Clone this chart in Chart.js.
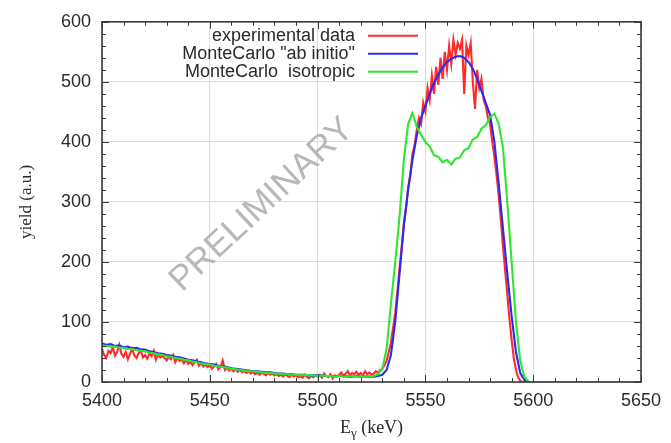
<!DOCTYPE html>
<html>
<head>
<meta charset="utf-8">
<title>Gamma yield</title>
<script src="https://cdn.jsdelivr.net/npm/chart.js@4.4.0/dist/chart.umd.min.js"></script>
<style>
  html, body { margin: 0; padding: 0; background: #fff; }
  #wrap { position: relative; width: 671px; height: 443px; }
</style>
</head>
<body>
<div id="wrap"><canvas id="spectrum"></canvas></div>
<script>
// ---------- data ----------
// photon energy (keV) for the measured spectrum, 1 keV bins
var expEnergy = [
  5400, 5401, 5402, 5403, 5404, 5405, 5406, 5407, 5408, 5409,
  5410, 5411, 5412, 5413, 5414, 5415, 5416, 5417, 5418, 5419,
  5420, 5421, 5422, 5423, 5424, 5425, 5426, 5427, 5428, 5429,
  5430, 5431, 5432, 5433, 5434, 5435, 5436, 5437, 5438, 5439,
  5440, 5441, 5442, 5443, 5444, 5445, 5446, 5447, 5448, 5449,
  5450, 5451, 5452, 5453, 5454, 5455, 5456, 5457, 5458, 5459,
  5460, 5461, 5462, 5463, 5464, 5465, 5466, 5467, 5468, 5469,
  5470, 5471, 5472, 5473, 5474, 5475, 5476, 5477, 5478, 5479,
  5480, 5481, 5482, 5483, 5484, 5485, 5486, 5487, 5488, 5489,
  5490, 5491, 5492, 5493, 5494, 5495, 5496, 5497, 5498, 5499,
  5500, 5501, 5502, 5503, 5504, 5505, 5506, 5507, 5508, 5509,
  5510, 5511, 5512, 5513, 5514, 5515, 5516, 5517, 5518, 5519,
  5520, 5521, 5522, 5523, 5524, 5525, 5526, 5527, 5528, 5529,
  5530, 5531, 5532, 5533, 5534, 5535, 5536, 5537, 5538, 5539,
  5540, 5541, 5542, 5543, 5544, 5545, 5546, 5547, 5548, 5549,
  5550, 5551, 5552, 5553, 5554, 5555, 5556, 5557, 5558, 5559,
  5560, 5561, 5562, 5563, 5564, 5565, 5566, 5567, 5568, 5569,
  5570, 5571, 5572, 5573, 5574, 5575, 5576, 5577, 5578, 5579,
  5580, 5581, 5582, 5583, 5584, 5585, 5586, 5587, 5588, 5589,
  5590, 5591, 5592, 5593, 5594, 5595, 5596, 5597, 5598, 5599,
  5600, 5610, 5620, 5630, 5640, 5650
];
var expYield = [
  55, 45, 40, 52, 48, 58, 44, 50, 62, 47,
  42, 50, 38, 47, 55, 44, 40, 48, 52, 41,
  45, 39, 48, 43, 52, 37, 46, 41, 44, 40,
  36, 43, 38, 45, 33, 40, 35, 38, 31, 37,
  30, 34, 28, 33, 37, 27, 31, 26, 29, 25,
  28, 22, 26, 30, 21, 25, 36, 20, 24, 19,
  22, 18, 21, 17, 20, 16, 19, 15, 18, 14,
  17, 13, 16, 12, 15, 14, 11, 15, 12, 14,
  11, 13, 10, 12, 9, 13, 10, 8, 12, 9,
  11, 8, 10, 7, 12, 9, 6, 10, 8, 11,
  9, 12, 7, 14, 10, 8, 13, 6, 11, 9,
  12, 16, 10, 14, 18, 11, 15, 13, 17, 12,
  15, 11, 18, 13, 16, 12, 14, 18, 15, 20,
  22, 28, 35, 50, 65, 90, 115, 150, 190, 225,
  265, 290, 325, 345, 380, 395, 420, 440, 430, 465,
  450, 490, 470, 510, 480, 525, 495, 540, 505, 550,
  520, 560, 530, 570, 545, 565, 555, 570, 480, 560,
  545, 565, 500, 455, 520, 490, 505, 470, 460, 440,
  430, 400, 375, 345, 310, 270, 225, 185, 145, 105,
  70, 40, 20, 8, 2, 0, 0, 0, 0, 0,
  0, 0, 0, 0, 0, 0
];

// Monte Carlo spectra, 2 keV bins
var mcEnergy = [
  5400, 5402, 5404, 5406, 5408, 5410, 5412, 5414, 5416, 5418,
  5420, 5422, 5424, 5426, 5428, 5430, 5432, 5434, 5436, 5438,
  5440, 5442, 5444, 5446, 5448, 5450, 5452, 5454, 5456, 5458,
  5460, 5462, 5464, 5466, 5468, 5470, 5472, 5474, 5476, 5478,
  5480, 5482, 5484, 5486, 5488, 5490, 5492, 5494, 5496, 5498,
  5500, 5502, 5504, 5506, 5508, 5510, 5512, 5514, 5516, 5518,
  5520, 5522, 5524, 5526, 5528, 5530, 5532, 5534, 5536, 5538,
  5540, 5542, 5544, 5546, 5548, 5550, 5552, 5554, 5556, 5558,
  5560, 5562, 5564, 5566, 5568, 5570, 5572, 5574, 5576, 5578,
  5580, 5582, 5584, 5586, 5588, 5590, 5592, 5594, 5596, 5598,
  5600, 5610, 5620, 5630, 5640, 5650
];
var abInitioYield = [
  64, 62, 63, 60, 61, 58, 59, 56, 57, 54,
  54, 51, 50, 48, 47, 45, 44, 42, 41, 39,
  37, 36, 34, 33, 31, 30, 29, 27, 26, 25,
  23, 22, 21, 20, 19, 18, 18, 17, 16, 16,
  15, 14, 14, 13, 13, 12, 12, 12, 11, 11,
  11, 11, 10, 10, 10, 10, 10, 9, 9, 10,
  9, 9, 9, 9, 10, 12, 20, 45, 100, 180,
  260, 320, 370, 410, 440, 460, 480, 498, 512, 524,
  533, 538, 542, 543, 540, 533, 522, 505, 485, 465,
  445, 400, 330, 255, 180, 110, 50, 15, 3, 0,
  0, 0, 0, 0, 0, 0
];
var isotropicYield = [
  61, 60, 59, 59, 57, 57, 55, 55, 53, 52,
  51, 49, 48, 46, 45, 43, 42, 40, 39, 37,
  36, 34, 33, 31, 30, 29, 27, 26, 25, 24,
  22, 21, 20, 19, 18, 18, 17, 16, 15, 15,
  14, 14, 13, 13, 12, 12, 11, 12, 11, 11,
  10, 11, 10, 10, 9, 10, 9, 9, 10, 9,
  9, 9, 9, 10, 13, 22, 55, 130, 200, 275,
  370, 430, 448, 425, 412, 400, 392, 378, 375, 366,
  370, 362, 372, 374, 386, 390, 404, 408, 422, 428,
  441, 447, 430, 390, 298, 200, 100, 35, 8, 0,
  0, 0, 0, 0, 0, 0
];

var seriesLabels = ['experimental data', 'MonteCarlo "ab initio"', 'MonteCarlo  isotropic'];
var seriesColors = ['#ff2b2b', '#2b2bf0', '#2fe62f'];

var xMin = 5400, xMax = 5650, xStep = 50, xMinor = 10;
var yMin = 0, yMax = 600, yStep = 100, yMinor = 20;

function toPoints(xs, ys) {
  return xs.map(function (x, i) { return { x: x, y: ys[i] }; });
}

var SANS = '"Liberation Sans", Arial, sans-serif';
var SERIF = '"Liberation Serif", "Times New Roman", serif';

// ---------- plugins ----------
// faint diagonal stamp behind the curves
var stamp = {
  id: 'stamp',
  beforeDatasetsDraw: function (chart) {
    var ctx = chart.ctx;
    ctx.save();
    ctx.translate(262, 205);
    ctx.rotate(-43 * Math.PI / 180);
    ctx.font = '35px ' + SANS;
    ctx.fillStyle = '#b8b8b8';
    ctx.textAlign = 'center';
    ctx.textBaseline = 'middle';
    ctx.fillText('PRELIMINARY', 0, 0);
    ctx.restore();
  }
};

// gnuplot style box with inward major/minor ticks on every side
var frameTicks = {
  id: 'frameTicks',
  afterDatasetsDraw: function (chart) {
    var ctx = chart.ctx, a = chart.chartArea;
    var xs = chart.scales.x, ys = chart.scales.y;
    var v, p, len;
    ctx.save();
    ctx.strokeStyle = '#3a3a3a';
    ctx.lineWidth = 1;
    ctx.beginPath();
    for (v = xMin; v <= xMax; v += xMinor) {
      p = Math.round(xs.getPixelForValue(v)) + 0.5;
      len = (v % xStep === 0) ? 7 : 4;
      ctx.moveTo(p, a.bottom); ctx.lineTo(p, a.bottom - len);
      ctx.moveTo(p, a.top); ctx.lineTo(p, a.top + len);
    }
    for (v = yMin; v <= yMax; v += yMinor) {
      p = Math.round(ys.getPixelForValue(v)) + 0.5;
      len = (v % yStep === 0) ? 7 : 4;
      ctx.moveTo(a.left, p); ctx.lineTo(a.left + len, p);
      ctx.moveTo(a.right, p); ctx.lineTo(a.right - len, p);
    }
    ctx.stroke();
    ctx.lineWidth = 1.6;
    ctx.strokeRect(a.left, a.top, a.right - a.left, a.bottom - a.top);
    ctx.restore();
  }
};

// key in the upper left: right aligned text, line sample after it
var keyBox = {
  id: 'keyBox',
  afterDraw: function (chart) {
    var ctx = chart.ctx, a = chart.chartArea;
    var textRight = a.left + 253, lineL = a.left + 266, lineR = a.left + 316;
    ctx.save();
    ctx.font = '18px ' + SANS;
    ctx.textAlign = 'right';
    ctx.textBaseline = 'middle';
    chart.data.datasets.forEach(function (ds, i) {
      var y = a.top + 14 + i * 18;
      ctx.fillStyle = '#2a2a2a';
      ctx.fillText(ds.label, textRight, y);
      ctx.strokeStyle = ds.borderColor;
      ctx.lineWidth = 2;
      ctx.beginPath();
      ctx.moveTo(lineL, y);
      ctx.lineTo(lineR, y);
      ctx.stroke();
    });
    ctx.restore();
  }
};

// axis titles, serif like the rest of the figure captions
var axisTitles = {
  id: 'axisTitles',
  afterDraw: function (chart) {
    var ctx = chart.ctx, a = chart.chartArea;
    var cx = (a.left + a.right) / 2;
    ctx.save();
    ctx.fillStyle = '#2a2a2a';
    ctx.textBaseline = 'alphabetic';
    // E with a gamma subscript, then the unit
    var big = '18px ' + SERIF, small = '13px ' + SERIF;
    ctx.font = big;
    var wE = ctx.measureText('E').width;
    var wU = ctx.measureText(' (keV)').width;
    ctx.font = small;
    var wG = ctx.measureText('\u03b3').width;
    var x0 = cx - (wE + wG + wU) / 2, base = 433;
    ctx.textAlign = 'left';
    ctx.font = big;
    ctx.fillText('E', x0, base);
    ctx.font = small;
    ctx.fillText('\u03b3', x0 + wE, base + 4);
    ctx.font = big;
    ctx.fillText(' (keV)', x0 + wE + wG, base);

    ctx.translate(27, (a.top + a.bottom) / 2);
    ctx.rotate(-Math.PI / 2);
    ctx.textAlign = 'center';
    ctx.textBaseline = 'middle';
    ctx.font = '17px ' + SERIF;
    ctx.fillText('yield (a.u.)', 0, 0);
    ctx.restore();
  }
};

// ---------- chart ----------
var ctx = document.getElementById('spectrum').getContext('2d');
new Chart(ctx, {
  type: 'line',
  data: {
    datasets: [
      { label: seriesLabels[0], data: toPoints(expEnergy, expYield), borderColor: seriesColors[0], order: 3 },
      { label: seriesLabels[1], data: toPoints(mcEnergy, abInitioYield), borderColor: seriesColors[1], order: 2 },
      { label: seriesLabels[2], data: toPoints(mcEnergy, isotropicYield), borderColor: seriesColors[2], order: 1 }
    ]
  },
  options: {
    responsive: true,
    maintainAspectRatio: false,
    animation: false,
    devicePixelRatio: 1,
    layout: { padding: { top: 17, right: 30, left: 0, bottom: 0 } },
    elements: {
      line: { borderWidth: 2.1, tension: 0, fill: false },
      point: { radius: 0, hoverRadius: 0 }
    },
    plugins: {
      legend: { display: false },
      tooltip: { enabled: false }
    },
    scales: {
      x: {
        type: 'linear',
        min: xMin,
        max: xMax,
        afterFit: function (scale) { scale.height = 61; },
        ticks: {
          stepSize: xStep,
          maxRotation: 0,
          padding: 8,
          color: '#2a2a2a',
          font: { family: SANS, size: 18 },
          callback: function (v) { return String(v); }
        },
        grid: { color: '#dcdcdc', lineWidth: 1, drawTicks: false },
        border: { display: false }
      },
      y: {
        min: yMin,
        max: yMax,
        afterFit: function (scale) { scale.width = 102; },
        ticks: {
          stepSize: yStep,
          padding: 11,
          color: '#2a2a2a',
          font: { family: SANS, size: 18 },
          callback: function (v) { return String(v); }
        },
        grid: { color: '#dcdcdc', lineWidth: 1, drawTicks: false },
        border: { display: false }
      }
    }
  },
  plugins: [stamp, frameTicks, keyBox, axisTitles]
});
</script>
</body>
</html>
